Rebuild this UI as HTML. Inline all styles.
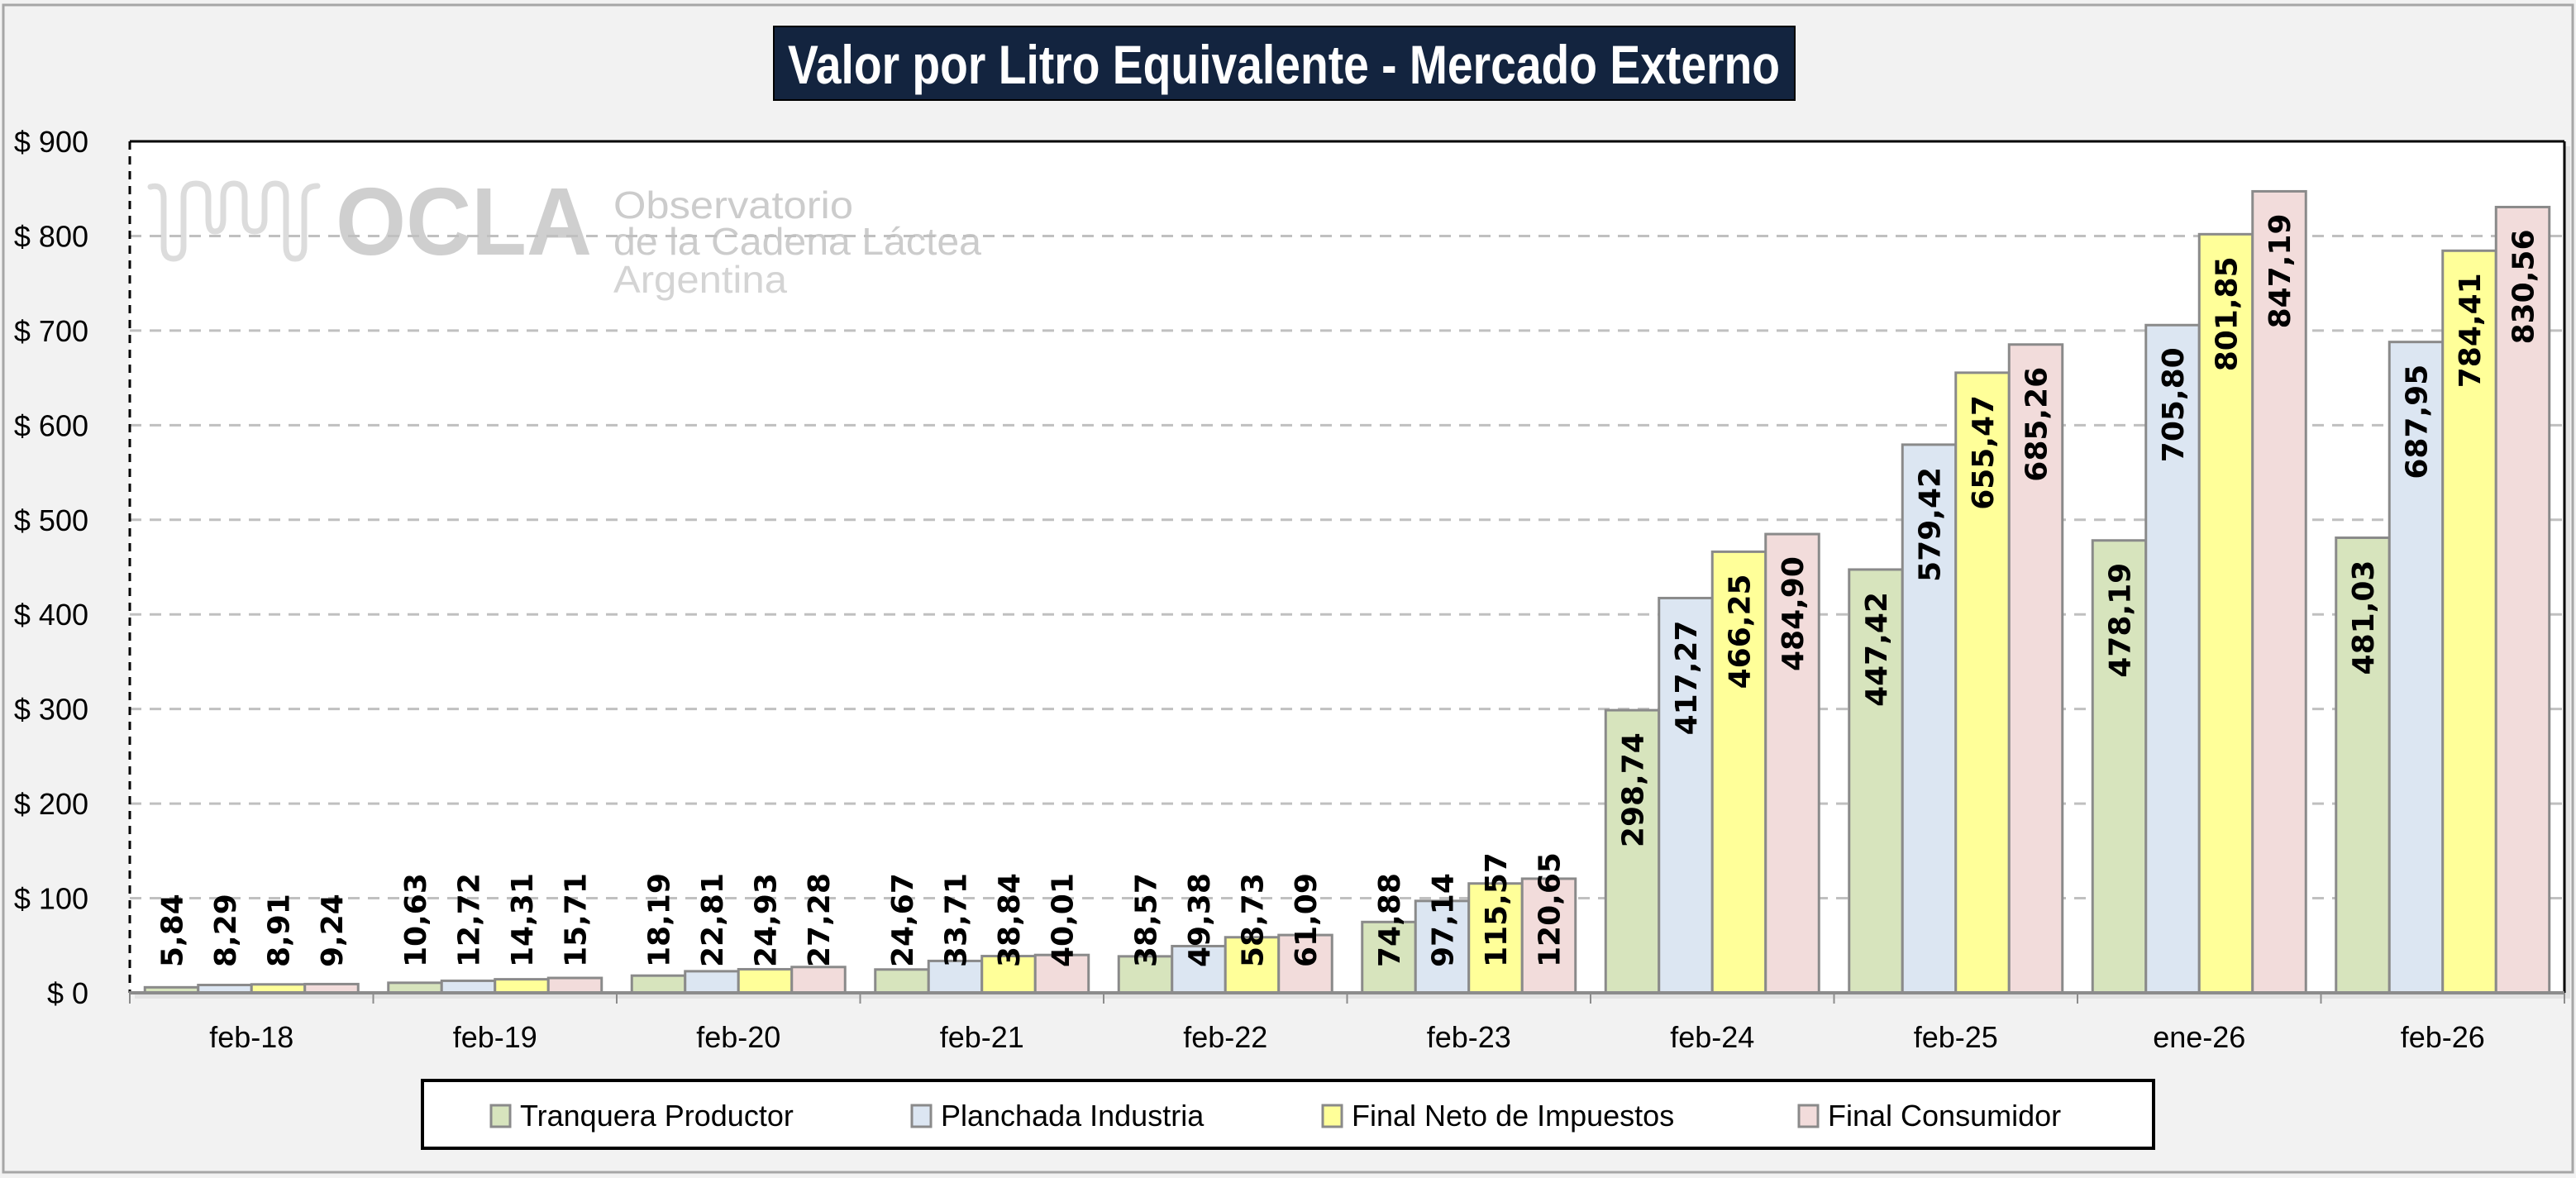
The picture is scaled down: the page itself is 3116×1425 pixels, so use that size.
<!DOCTYPE html>
<html><head><meta charset="utf-8"><style>
html,body{margin:0;padding:0;background:#f2f2f2;}
svg{display:block;}
</style></head><body>
<svg id="chart" width="3116" height="1425" viewBox="0 0 3116 1425" xmlns="http://www.w3.org/2000/svg" font-family="'Liberation Sans', sans-serif">
<rect x="4" y="6" width="3108" height="1412" fill="#f2f2f2" stroke="#a6a6a6" stroke-width="3"/>
<rect x="936" y="32" width="1235" height="89" fill="#13243f" stroke="#000" stroke-width="2"/>
<text x="1553" y="101" fill="#fff" font-weight="bold" font-size="66" text-anchor="middle" textLength="1200" lengthAdjust="spacingAndGlyphs">Valor por Litro Equivalente - Mercado Externo</text>
<rect x="163" y="177" width="2946" height="1031" fill="#d9d9d9" opacity="0.6"/>
<rect x="157" y="171" width="2945" height="1030" fill="#fff"/>
<g id="watermark">
<path d="M182 226 Q198 222 198 240 L198 298 Q198 313 210 313 Q222 313 222 298 L222 238 Q222 222 237 222 Q252 222 252 238 L252 265 Q252 280 260 280 Q270 280 270 265 L270 238 Q270 222 283 222 Q296 222 296 238 L296 265 Q296 280 308 280 Q320 280 320 265 L320 238 Q320 222 333 222 Q346 222 346 238 L346 298 Q346 313 357 313 Q368 313 368 298 L368 240 Q368 225 384 225" fill="none" stroke="#dcdcdc" stroke-width="7" stroke-linecap="round"/>
<text x="406" y="308" font-size="116" font-weight="bold" fill="#cfcfcf" textLength="310" lengthAdjust="spacingAndGlyphs">OCLA</text>
<text x="742" y="264" font-size="46" fill="#cccccc" textLength="290" lengthAdjust="spacingAndGlyphs">Observatorio</text>
<text x="742" y="308" font-size="46" fill="#cccccc" textLength="445" lengthAdjust="spacingAndGlyphs">de la Cadena Láctea</text>
<text x="742" y="354" font-size="46" fill="#d4d4d4" textLength="210" lengthAdjust="spacingAndGlyphs">Argentina</text>
</g>
<g id="grid"></g>
<g id="bars"></g>
<g id="labels"></g>
<line x1="157" y1="171" x2="3102" y2="171" stroke="#000" stroke-width="3"/>
<line x1="3102" y1="171" x2="3102" y2="1201" stroke="#000" stroke-width="3"/>
<line x1="157" y1="171" x2="157" y2="1201" stroke="#000" stroke-width="3" stroke-dasharray="10 8"/>
<line x1="156" y1="1201" x2="3102" y2="1201" stroke="#8c8c8c" stroke-width="4"/>
<g id="axes"></g>
<rect x="511" y="1307" width="2094" height="82" fill="#fff" stroke="#000" stroke-width="4"/>
<g id="legend"></g>
</svg>
<script>
const categories = ["feb-18","feb-19","feb-20","feb-21","feb-22","feb-23","feb-24","feb-25","ene-26","feb-26"];
const seriesNames = ["Tranquera Productor","Planchada Industria","Final Neto de Impuestos","Final Consumidor"];
const tranquera = [5.84,10.63,18.19,24.67,38.57,74.88,298.74,447.42,478.19,481.03];
const planchada = [8.29,12.72,22.81,33.71,49.38,97.14,417.27,579.42,705.80,687.95];
const finalNeto = [8.91,14.31,24.93,38.84,58.73,115.57,466.25,655.47,801.85,784.41];
const finalCons = [9.24,15.71,27.28,40.01,61.09,120.65,484.90,685.26,847.19,830.56];
const yTicks = [0,100,200,300,400,500,600,700,800,900];

const series = [tranquera, planchada, finalNeto, finalCons];
const fills = ["#d7e4bd","#dce6f2","#ffff99","#f2dcdb"];
const NS = "http://www.w3.org/2000/svg";
const X0 = 157, X1 = 3102, Y0 = 1201, YT = 171, YMAX = 900;
const catW = (X1 - X0) / categories.length;
const barW = 64.5;
function y(v){ return Y0 - v / YMAX * (Y0 - YT); }
function xCat(i){ return X0 + catW * (i + 0.5); }
function mk(tag, attrs, parent, txt){
  const e = document.createElementNS(NS, tag);
  for (const k in attrs) e.setAttribute(k, attrs[k]);
  if (txt !== undefined) e.textContent = txt;
  parent.appendChild(e); return e;
}
function fmt(v){ return v.toFixed(2).replace('.', ','); }
const grid = document.getElementById('grid');
const axes = document.getElementById('axes');
yTicks.forEach(t => {
  if (t > 0 && t < YMAX) {
    const l = mk('line', {x1:X0, x2:X1, y1:y(t), y2:y(t), stroke:'#c0c0c0', 'stroke-width':3, 'stroke-dasharray':'14 10'}, grid);
    
    
  }
  const tx = mk('text', {x:107, y:y(t)+13, 'font-size':36, 'text-anchor':'end', fill:'#000'}, axes, '$ ' + t);
  
  
});
for (let i = 0; i <= categories.length; i++) {
  const tk = mk('line', {x1:X0+catW*i, x2:X0+catW*i, y1:Y0, y2:Y0+13, stroke:'#8c8c8c', 'stroke-width':2}, axes);
  
  
}
categories.forEach((c, i) => {
  const tx = mk('text', {x:xCat(i), y:1267, 'font-size':36, 'text-anchor':'middle', fill:'#000'}, axes, c);
  
  
});
const bars = document.getElementById('bars');
const labels = document.getElementById('labels');
series.forEach((s, si) => {
  s.forEach((v, i) => {
    const bx = xCat(i) + (si - 2) * barW;
    const by = y(v);
    const r = mk('rect', {x:bx, y:by, width:barW, height:Y0-by, fill:fills[si], stroke:'#8a8a8a', 'stroke-width':3}, bars);
    
    
    const txt = fmt(v);
    const len = 36 * (0.696 * (txt.length - 1) + 0.38);
    const h = Y0 - by;
    let bottom;
    if (h < len + 55) bottom = 1170; else bottom = by + 27 + len;
    const cx = bx + barW/2 + 13;
    const lt = mk('text', {x:cx, y:bottom, 'font-size':36, 'font-weight':'bold', 'font-family':"'DejaVu Sans', sans-serif", fill:'#000', transform:'rotate(-90 '+cx+' '+bottom+')'}, labels, txt);
    
    
  });
});
const legend = document.getElementById('legend');
const lx = [594, 1103, 1600, 2176];
seriesNames.forEach((n, si) => {
  const sw = mk('rect', {x:lx[si], y:1337, width:23, height:26, fill:fills[si], stroke:'#8a8a8a', 'stroke-width':3}, legend);
  
  
  const t = mk('text', {x:lx[si]+35, y:1362, 'font-size':36, fill:'#000'}, legend, n);
  
  
});
</script>
</body></html>
